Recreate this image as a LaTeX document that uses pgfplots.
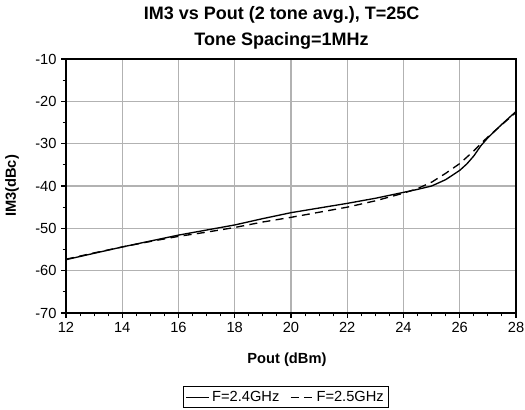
\documentclass[border=0pt]{standalone}
\usepackage{pgfplots}
\pgfplotsset{compat=1.18}
\usepackage{fontspec}
\setmainfont{Liberation Sans}
\begin{document}
\begin{tikzpicture}
\path[use as bounding box] (-49.5pt,-72.75pt) rectangle (344.25pt,234.75pt);
\begin{axis}[
  at={(0,0)}, anchor=south west,
  scale only axis,
  width=337.5pt, height=190.5pt,
  xmin=12, xmax=28, ymin=-70, ymax=-10,
  xtick={12,14,...,28}, ytick={-70,-60,...,-10},
  minor x tick num=3, minor y tick num=1,
  tick align=outside, tick pos=left,
  major tick length=3.6pt, minor tick length=2.6pt,
  grid=major, major grid style={black!30, line width=0.9pt},
  axis line style={line width=1pt},
  every tick/.style={black, line width=0.8pt},
  ticklabel style={font=\fontsize{11}{13}\selectfont},
  /pgf/number format/assume math mode=true,
  xlabel={\textbf{Pout (dBm)}},
  ylabel={\textbf{IM3(dBc)}},
  label style={font=\fontsize{11}{13}\selectfont},
  xlabel style={at={(axis description cs:0.491,-0.185)}, anchor=center},
  ylabel style={at={(axis description cs:-0.12,0.5)}, anchor=center, rotate=0},
  title={\textbf{IM3 vs Pout (2 tone avg.), T=25C}\\\textbf{Tone Spacing=1MHz}},
  title style={font=\fontsize{13.5}{19.5}\selectfont, align=center, at={(axis description cs:0.479,1)}, anchor=base, yshift=4.3pt, inner sep=0pt},
  legend style={at={(axis description cs:0.489,-0.287)}, anchor=north, legend columns=2, font=\fontsize{11}{13}\selectfont, draw=black, line width=0.6pt, inner sep=1.5pt, /tikz/every even column/.append style={column sep=6pt}},
  legend image post style={line width=0.8pt},
  legend cell align=left,
]
\addplot[black, line width=1pt] coordinates {
(12,-57.4) (13,-55.9) (14,-54.4) (15,-53.0) (16,-51.6) (17,-50.4) (18,-49.2) (19,-47.7) (20,-46.3) (21,-45.2) (22,-44.1) (23,-42.9) (24,-41.5) (24.5,-40.8) (25,-40.0) (25.5,-38.5) (26,-36.3) (26.25,-34.8) (26.5,-32.9) (26.75,-30.5) (27,-28.6) (27.5,-25.4) (28,-22.4)
};
\addlegendentry{F=2.4GHz}
\addplot[black, dash pattern=on 6pt off 4pt, line width=1pt] coordinates {
(12,-57.3) (13,-55.8) (14,-54.4) (15,-53.1) (16,-51.9) (17,-50.9) (18,-49.8) (19,-48.5) (20,-47.4) (21,-46.2) (22,-45.0) (23,-43.5) (24,-41.7) (24.5,-40.6) (25,-39.1) (25.5,-37.0) (26,-34.7) (26.5,-31.7) (26.75,-30.0) (27,-28.4) (27.5,-25.5) (28,-22.6)
};
\addlegendentry{F=2.5GHz}
\end{axis}
\end{tikzpicture}
\end{document}
